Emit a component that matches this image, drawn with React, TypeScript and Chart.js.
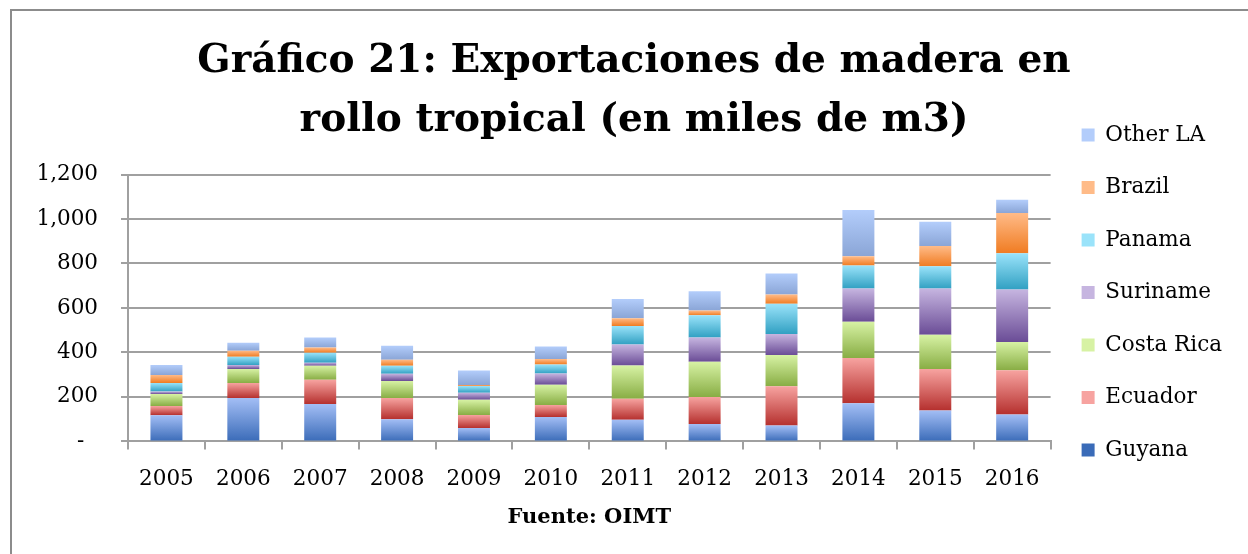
import React, { useEffect, useRef } from "react";
import { Chart, registerables } from "chart.js";

Chart.register(...registerables);

const years = ["2005", "2006", "2007", "2008", "2009", "2010", "2011", "2012", "2013", "2014", "2015", "2016"];
const guyana = [118, 195, 168, 100, 60, 110, 97, 78, 71, 171, 139, 121];
const ecuador = [41, 68, 109, 95, 59, 54, 95, 122, 177, 204, 186, 199];
const costaRica = [54, 63, 63, 77, 68, 91, 149, 158, 140, 163, 154, 127];
const suriname = [11, 17, 14, 32, 32, 50, 95, 109, 95, 149, 208, 236];
const panama = [39, 38, 45, 36, 30, 41, 83, 100, 136, 104, 100, 163];
const brazil = [36, 27, 23, 27, 5, 24, 35, 21, 41, 41, 91, 181];
const otherLA = [45, 36, 45, 63, 65, 57, 86, 87, 95, 208, 109, 59];

const seriesNames = ["Guyana", "Ecuador", "Costa Rica", "Suriname", "Panama", "Brazil", "Other LA"];
const seriesValues = [guyana, ecuador, costaRica, suriname, panama, brazil, otherLA];
// [top colour, bottom colour, legend colour]
const seriesColors = [
  ["#a3bef5", "#3a6bb8", "#5f86cc"],
  ["#f7a3a0", "#b5302e", "#d45f5c"],
  ["#d7f2a4", "#88ad44", "#a8c966"],
  ["#c6b5e0", "#6a4c96", "#8e76b5"],
  ["#9ae3fa", "#31a0c2", "#5cbfdc"],
  ["#ffbb88", "#f07c22", "#f7934a"],
  ["#b3cdfb", "#8aa5d6", "#9db8e8"],
];

const titleLines = ["Gráfico 21: Exportaciones de madera en", "rollo tropical (en miles de m3)"];
const sourceText = "Fuente: OIMT";

const FONT = "'DejaVu Serif', serif";
const GRID = "#a0a0a0";

export default function App() {
  const ref = useRef<HTMLCanvasElement | null>(null);

  useEffect(() => {
    if (!ref.current) return;
    const makeBg = (di: number) => (ctx: any) => {
      const [top, bot, leg] = seriesColors[di];
      if (ctx.type !== "data") return leg;
      const chart = ctx.chart;
      const ys = chart.scales && chart.scales.y;
      if (!ys || !chart.chartArea) return leg;
      const i = ctx.dataIndex;
      let base = 0;
      for (let k = 0; k < di; k++) base += seriesValues[k][i];
      const v = seriesValues[di][i];
      const y0 = ys.getPixelForValue(base + v);
      const y1 = ys.getPixelForValue(base);
      if (!isFinite(y0) || !isFinite(y1) || y0 === y1) return leg;
      const g = chart.ctx.createLinearGradient(0, y0, 0, y1);
      g.addColorStop(0, top);
      g.addColorStop(1, bot);
      return g;
    };

    const chart = new Chart(ref.current, {
      type: "bar",
      data: {
        labels: years,
        datasets: seriesNames.map((name, di) => ({
          label: name,
          data: seriesValues[di],
          backgroundColor: makeBg(di),
          borderWidth: 0,
          barPercentage: 0.416,
          categoryPercentage: 1,
        })),
      },
      options: {
        responsive: false,
        animation: false,
        layout: { padding: { top: 20, left: 24, right: 16, bottom: 0 } },
        plugins: {
          tooltip: { enabled: false },
          title: {
            display: true,
            text: titleLines,
            color: "#000",
            font: { family: FONT, weight: "bold", size: 39, lineHeight: 1.5 },
            padding: { top: 2, bottom: 24.5 },
          },
          legend: {
            position: "right",
            reverse: true,
            labels: {
              boxWidth: 13,
              boxHeight: 13,
              padding: 31,
              color: "#000",
              font: { family: FONT, size: 21.5 },
            },
          },
        },
        scales: {
          x: {
            stacked: true,
            grid: {
              display: true,
              drawOnChartArea: false,
              drawTicks: true,
              tickLength: 8,
              color: GRID,
              lineWidth: 2,
              offset: true,
            },
            border: { color: GRID, width: 2 },
            ticks: { color: "#000", font: { family: FONT, size: 21.5 }, padding: 17, maxRotation: 0 },
            title: {
              display: true,
              text: sourceText,
              color: "#000",
              font: { family: FONT, weight: "bold", size: 21, lineHeight: 0.8 },
              padding: { top: 0, bottom: 28 },
            },
          },
          y: {
            stacked: true,
            min: 0,
            max: 1200,
            grid: { color: GRID, lineWidth: 2, tickLength: 7 },
            border: { color: GRID, width: 2 },
            ticks: {
              stepSize: 200,
              padding: 23,
              color: "#000",
              font: { family: FONT, size: 21.5 },
              callback: (v: any) => (Number(v) === 0 ? "-  " : Number(v).toLocaleString("en-US")),
            },
            afterFit: (scale: any) => {
              scale.width = 92;
            },
          },
        },
      },
    } as any);
    return () => chart.destroy();
  }, []);

  return (
    <div
      style={{
        position: "absolute",
        left: 10,
        top: 9,
        width: 1238,
        height: 545,
        overflow: "hidden",
        borderLeft: "2px solid #8c8c8c",
        borderTop: "2px solid #8c8c8c",
        background: "#fff",
      }}
    >
      <canvas ref={ref} width={1236} height={543} style={{ display: "block" }} />
    </div>
  );
}
